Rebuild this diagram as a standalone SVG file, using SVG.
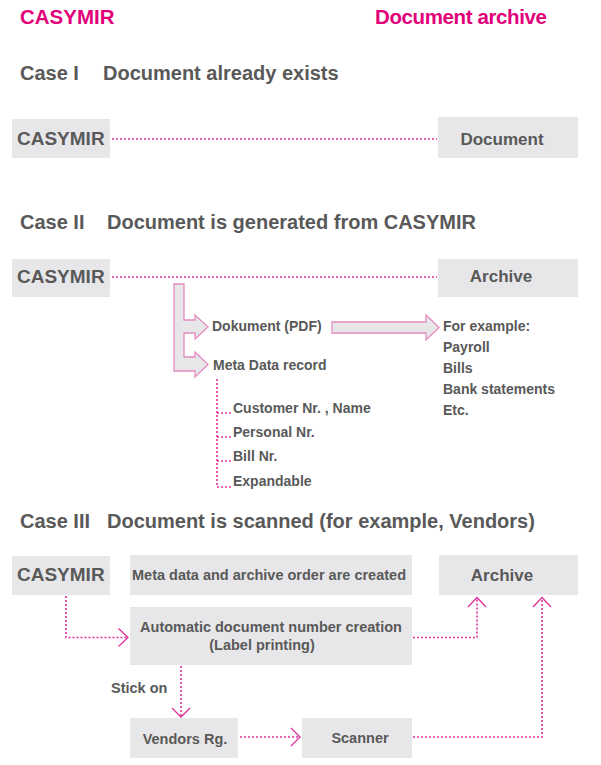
<svg xmlns="http://www.w3.org/2000/svg" width="601" height="765" viewBox="0 0 601 765">
<defs>
<style>
text{font-family:"Liberation Sans",Arial,sans-serif;font-weight:bold;fill:#595959}
.title{font-size:20.5px;fill:#e2007a}
.hd{font-size:20px}
.big{font-size:19px}
.mid{font-size:17px}
.sm{font-size:14px}
.sm2{font-size:14.5px}
.box{fill:#e7e7e9}
.dot{fill:none;stroke:#e2309a;stroke-width:1.6;stroke-dasharray:2 2}
.head{fill:none;stroke:#e2309a;stroke-width:1.3}
.blk{fill:#e7e7e9;stroke:#e58bc0;stroke-width:1.3}
</style>
</defs>
<rect width="601" height="765" fill="#ffffff"/>
<g id="titles">
<text class="title" x="20" y="24">CASYMIR</text>
<text class="title" x="375" y="24" textLength="172">Document archive</text>
<text class="hd" x="20" y="80">Case I</text>
<text class="hd" x="103" y="80">Document already exists</text>
<text class="hd" x="20" y="229">Case II</text>
<text class="hd" x="107" y="229">Document is generated from CASYMIR</text>
<text class="hd" x="20" y="528">Case III</text>
<text class="hd" x="107" y="528">Document is scanned (for example, Vendors)</text>
</g>
<g id="c1-casymir"><rect class="box" x="12" y="119" width="98" height="39"/><text class="big" x="17" y="145">CASYMIR</text></g>
<g id="c1-document"><rect class="box" x="438" y="117" width="140" height="41"/><text class="mid" x="502" y="145" text-anchor="middle">Document</text></g>
<g id="c2-casymir"><rect class="box" x="12" y="259" width="98" height="38"/><text class="big" x="17" y="283">CASYMIR</text></g>
<g id="c2-archive"><rect class="box" x="438" y="259" width="140" height="38"/><text class="mid" x="501" y="282" text-anchor="middle">Archive</text></g>
<g id="c2-dokument"><text class="sm" x="212" y="331">Dokument (PDF)</text></g>
<g id="c2-meta"><text class="sm" x="213" y="370">Meta Data record</text></g>
<g id="c2-examples">
<text class="sm" x="443" y="331">For example:</text>
<text class="sm" x="443" y="352">Payroll</text>
<text class="sm" x="443" y="373">Bills</text>
<text class="sm" x="443" y="394">Bank statements</text>
<text class="sm" x="443" y="415">Etc.</text>
</g>
<g id="c2-fields">
<text class="sm" x="233" y="413">Customer Nr. , Name</text>
<text class="sm" x="233" y="437">Personal Nr.</text>
<text class="sm" x="233" y="461">Bill Nr.</text>
<text class="sm" x="233" y="486">Expandable</text>
</g>
<g id="c3-casymir"><rect class="box" x="12" y="556" width="98" height="39"/><text class="big" x="17" y="581">CASYMIR</text></g>
<g id="c3-meta"><rect class="box" x="130" y="555" width="282" height="40"/><text class="sm2" x="269" y="580" text-anchor="middle">Meta data and archive order are created</text></g>
<g id="c3-archive"><rect class="box" x="439" y="555" width="139" height="40"/><text class="mid" x="502" y="581" text-anchor="middle">Archive</text></g>
<g id="c3-auto"><rect class="box" x="130" y="607" width="282" height="58"/><text class="sm2" x="271" y="632" text-anchor="middle">Automatic document number creation</text><text class="sm2" x="262" y="650" text-anchor="middle">(Label printing)</text></g>
<g id="c3-vendors"><rect class="box" x="130" y="718" width="108" height="40"/><text class="sm2" x="185" y="744" text-anchor="middle">Vendors Rg.</text></g>
<g id="c3-scanner"><rect class="box" x="302" y="718" width="110" height="40"/><text class="sm2" x="360" y="743" text-anchor="middle">Scanner</text></g>
<g id="c3-stick"><text class="sm2" x="111" y="693">Stick on</text></g>
<g id="connectors">
<line class="dot" x1="112" y1="139" x2="437" y2="139"/>
<line class="dot" x1="112" y1="277" x2="437" y2="277"/>
<path class="blk" d="M174,284 H184 V320 H195 V315 L208,327 L195,339 V333 H184 V357 H195 V352 L208,364.5 L195,377 V371 H174 Z"/>
<path class="blk" d="M332,322 H426 V315 L439,327.5 L426,340 V333 H332 Z"/>
<path class="dot" d="M217,379 V487 M217,413 H232 M217,437 H232 M217,461 H232 M217,487 H232"/>
<path class="dot" d="M66,596 V637.5 H127"/>
<path class="head" d="M118.5,628.5 L128,637.5 L118.5,646.5"/>
<path class="dot" d="M413,637.5 H477 V599"/>
<path class="head" d="M468,607 L477,597.5 L486,607"/>
<path class="dot" d="M413,737 H542 V599"/>
<path class="head" d="M533,607 L542,597.5 L551,607"/>
<path class="dot" d="M181,666 V716"/>
<path class="head" d="M172,708 L181,717 L190,708"/>
<path class="dot" d="M240,737 H299"/>
<path class="head" d="M291,728 L300,737 L291,746"/>
</g>
</svg>
